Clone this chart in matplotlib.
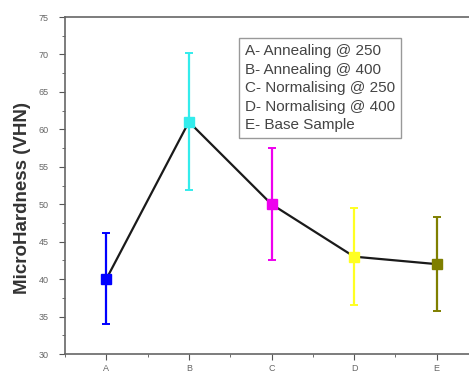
import matplotlib
matplotlib.use("Agg")
import matplotlib.pyplot as plt
from matplotlib.ticker import MultipleLocator

categories = ["A", "B", "C", "D", "E"]
hardness = [40.0, 61.0, 50.0, 43.0, 42.0]
err_low = [6.0, 9.1, 7.5, 6.4, 6.3]
err_high = [6.1, 9.2, 7.5, 6.5, 6.3]
colors = ["#0000ff", "#33ecec", "#ee00ee", "#ffff22", "#7f7f00"]
legend_lines = ["A- Annealing @ 250", "B- Annealing @ 400", "C- Normalising @ 250",
                "D- Normalising @ 400", "E- Base Sample"]

plt.rcParams['font.family'] = ['Liberation Sans', 'DejaVu Sans']

fig = plt.figure(figsize=(4.69, 3.74), dpi=100)
ax = fig.add_axes([65/469, 1-354/374, (478-65)/469, (354-17)/374])

x = list(range(1, len(categories) + 1))
ax.plot(x, hardness, color="#1a1a1a", lw=1.6, zorder=2)
for xi, h, lo, hi, c in zip(x, hardness, err_low, err_high, colors):
    ax.errorbar([xi], [h], yerr=[[lo], [hi]], fmt="s", color=c, ms=7,
                ecolor=c, elinewidth=1.6, capsize=3, capthick=1.4, zorder=3)

ax.set_xlim(0.5, 5.5)
ax.set_ylim(30, 75)
ax.set_xticks(x)
ax.set_xticklabels(categories)
ax.xaxis.set_minor_locator(MultipleLocator(0.5))
ax.yaxis.set_major_locator(MultipleLocator(5))
ax.yaxis.set_minor_locator(MultipleLocator(2.5))
ax.tick_params(which="major", direction="out", length=4, width=0.8, labelsize=6.5,
               colors="#555555", labelcolor="#666666", pad=8)
ax.tick_params(axis="x", which="major", pad=3)
ax.tick_params(which="minor", direction="out", length=2, width=0.6, colors="#555555")
for s in ["left", "bottom", "top"]:
    ax.spines[s].set_color("#666666")
    ax.spines[s].set_linewidth(1.2)
ax.spines["right"].set_visible(False)

ax.set_ylabel("MicroHardness (VHN)", fontsize=13.5, fontweight="bold", color="#333333")
ax.yaxis.set_label_coords(-0.083, 0.463)

fig.text(245/469, 1-44/374, "\n".join(legend_lines), fontsize=11, color="#444444",
         va="top", ha="left", linespacing=1.42,
         bbox=dict(boxstyle="square,pad=0.38", fc="white", ec="#999999", lw=1.0))

fig.savefig("out.png", dpi=100)
